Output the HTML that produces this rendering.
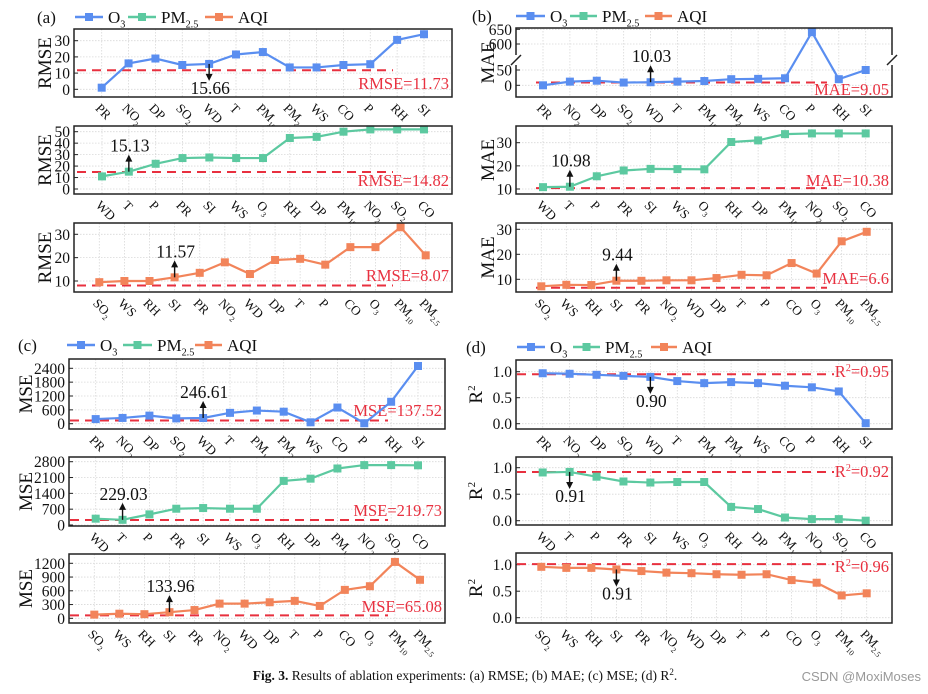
<!DOCTYPE html>
<html><head><meta charset="utf-8"><style>
body{margin:0;background:#fff;}
svg{display:block;font-family:"Liberation Serif",serif;}
</style></head><body>
<svg id="s" width="928" height="694" viewBox="0 0 928 694" xmlns="http://www.w3.org/2000/svg"></svg>
<script>
const catsA1=["PR","NO2","DP","SO2","WD","T","PM10","PM2.5","WS","CO","P","RH","SI"];
const catsA2=["WD","T","P","PR","SI","WS","O3","RH","DP","PM10","NO2","SO2","CO"];
const catsA3=["SO2","WS","RH","SI","PR","NO2","WD","DP","T","P","CO","O3","PM10","PM2.5"];
const rmseO3=[1,16,19,15,15.66,21.5,23,13.5,13.5,15,15.5,30.5,34];
const rmsePM=[11,15.13,22,27,27.5,27,27,44.5,45.5,50,52,52,52];
const rmseAQI=[9.5,10,10,11.57,13.5,18,13,19,19.5,17,24.5,24.5,33,21];
const maeO3=[0,12,15,9,10.03,12,14,20,21,23,640,20,50];
const maePM=[10.8,10.98,15.5,18,18.7,18.6,18.5,30.3,31,33.7,34,34,34];
const maeAQI=[7.2,7.8,7.7,9.44,9.4,9.6,9.6,10.5,11.8,11.6,16.5,12.3,25.2,29];
const mseO3=[200,250,350,230,246.61,470,570,520,60,700,20,950,2500];
const msePM=[280,229.03,470,720,750,720,720,1950,2050,2500,2650,2650,2640];
const mseAQI=[80,100,90,133.96,180,320,320,350,380,270,620,700,1230,840];
const r2O3=[0.97,0.96,0.94,0.92,0.90,0.82,0.78,0.80,0.78,0.73,0.70,0.62,0.01];
const r2PM=[0.91,0.92,0.83,0.74,0.72,0.73,0.73,0.26,0.22,0.06,0.03,0.03,0.0];
const r2AQI=[0.96,0.94,0.94,0.91,0.88,0.85,0.84,0.82,0.81,0.82,0.71,0.66,0.42,0.46];
const ticksRMSE1=[0,10,20,30], ticksRMSE2=[0,10,20,30,40,50], ticksRMSE3=[10,20,30];
const ticksMAE1=[0,50,600,650], ticksMAE2=[10,20,30], ticksMAE3=[10,20,30];
const ticksMSE1=[0,600,1200,1800,2400], ticksMSE2=[0,700,1400,2100,2800], ticksMSE3=[0,300,600,900,1200];
const ticksR2=[0.0,0.5,1.0];
const refs=[11.73,14.82,8.07,9.05,10.38,6.6,137.52,219.73,65.08,0.95,0.92,0.96];

const S=document.getElementById('s');
const NS="http://www.w3.org/2000/svg";
function el(t,a,p){const e=document.createElementNS(NS,t);for(const k in a)e.setAttribute(k,a[k]);(p||S).appendChild(e);return e;}
const BLUE="#5a8ef0",GREEN="#5cc9a0",ORANGE="#f2845a",RED="#e8303f";
function lab(g,s,x,y,size,anchor){
  const t=el('text',{x:x,y:y,'font-size':size,'text-anchor':anchor||'start',fill:'#111'},g);
  const m=s.match(/^([A-Z]+)([0-9.]+)$/);
  if(m && m[1]!=="R"){t.appendChild(document.createTextNode(m[1]));const ts=el('tspan',{'font-size':size*0.6,dy:size*0.25},t);ts.textContent=m[2];}
  else t.textContent=s;
  return t;
}
function linScale(v0,p0,v1,p1){return v=>p0+(v-v0)*(p1-p0)/(v1-v0);}
function panel(c){
  const g=el('g',{});
  
  
  const n=c.cats.length, xs=i=>c.px0+i*(c.px1-c.px0)/(n-1);
  el('rect',{x:c.x0,y:c.y0,width:c.x1-c.x0,height:c.y1-c.y0,fill:'#fff'},g);
  for(let i=0;i<n;i++) el('line',{x1:xs(i),x2:xs(i),y1:c.y0,y2:c.y1,stroke:'#d8d8d8','stroke-width':0.8,'stroke-dasharray':'1.5,1.5'},g);
  c.ticks.forEach(t=>{const y=c.ys(t);el('line',{x1:c.x0,x2:c.x1,y1:y,y2:y,stroke:'#d8d8d8','stroke-width':0.8,'stroke-dasharray':'1.5,1.5'},g);
    el('line',{x1:c.x0,x2:c.x0+4,y1:y,y2:y,stroke:'#222'},g);
    const tl=el('text',{x:c.x0-4,y:y+5.5,'font-size':15.5,'text-anchor':'end',fill:'#111'},g);
    
    
    tl.textContent=c.fmt?c.fmt(t):t;});
  const ry=c.ys(c.refPos!==undefined?c.refPos:c.ref);
  const rl=el('line',{x1:c.d0,x2:c.d1,y1:ry,y2:ry,stroke:RED,'stroke-width':2,'stroke-dasharray':'9,6'},g);
  
  
  const rt=el('text',{x:c.x1-3,y:c.ly,'font-size':16.5,'text-anchor':'end',fill:RED},g);
  
  
  rt.textContent=c.refText+c.ref;
  if(c.sup){rt.textContent='';rt.appendChild(document.createTextNode('R'));const sp=el('tspan',{'font-size':10,dy:-6},rt);sp.textContent='2';const r2=el('tspan',{dy:6},rt);r2.textContent='='+c.ref.toFixed(2);}
  const pts=c.vals.map((v,i)=>xs(i)+','+c.ys(v)).join(' ');
  const pl=el('polyline',{points:pts,fill:'none',stroke:c.color,'stroke-width':2.2},g);
  
  
  c.vals.forEach((v,i)=>{const r=el('rect',{x:xs(i)-4,y:c.ys(v)-4,width:8,height:8,fill:c.color},g);
    
    });
  el('rect',{x:c.x0,y:c.y0,width:c.x1-c.x0,height:c.y1-c.y0,fill:'none',stroke:'#222','stroke-width':1.5},g);
  if(c.brk){[c.x0,c.x1].forEach(x=>{el('rect',{x:x-3,y:c.brk-5,width:6,height:10,fill:'#fff'},g);el('line',{x1:x-5,y1:c.brk+5,x2:x+5,y2:c.brk-5,stroke:'#222','stroke-width':1.5},g);});}
  c.cats.forEach((s,i)=>{const x=xs(i)-7,y=c.y1+12;const t=lab(g,s,x,y,13);t.setAttribute('transform',`rotate(45 ${x} ${y})`);
    
    });
  const yl=el('text',{x:c.ylx,y:(c.y0+c.y1)/2,'font-size':19,'text-anchor':'middle',fill:'#111',transform:`rotate(-90 ${c.ylx} ${(c.y0+c.y1)/2})`},g);
  
  
  if(c.ylab==='R2'){yl.appendChild(document.createTextNode('R'));const sp=el('tspan',{'font-size':11,dy:-7},yl);sp.textContent='2';}else yl.textContent=c.ylab;
  const ax=xs(c.ai),ay=c.ys(c.vals[c.ai]);
  const d=c.dir;
  const tip=ay+d*17;
  el('line',{x1:ax,y1:ay,x2:ax,y2:tip-d*5,stroke:'#111','stroke-width':1.4},g);
  el('path',{d:`M${ax-3.5},${tip-d*7} L${ax},${tip} L${ax+3.5},${tip-d*7} Z`,fill:'#111'},g);
  const at=el('text',{x:ax+1,y:d>0?ay+30:ay-20,'font-size':17.5,'text-anchor':'middle',fill:'#111'},g);
  
  
  at.textContent=c.annText;
}
function legend(lbl,lx,ly,pos){
  const g=el('g',{});
  
  
  const t=el('text',{x:lx,y:ly+6,'font-size':17,fill:'#111'},g);t.textContent=lbl;
  const cols=[BLUE,GREEN,ORANGE],names=["O3","PM2.5","AQI"];
  pos.forEach((p,i)=>{el('line',{x1:p[0],x2:p[1],y1:ly,y2:ly,stroke:cols[i],'stroke-width':2.5},g);
    el('rect',{x:(p[0]+p[1])/2-4,y:ly-4,width:8,height:8,fill:cols[i]},g);
    const e=lab(g,names[i],p[1]+5,ly+6,17);
    
    });
}
legend("(a)",37,17,[[75,103],[128,156],[205,233]]);
legend("(b)",472,16,[[516,545],[570,597],[645,672]]);
legend("(c)",18,345,[[67,95],[123,152],[195,222]]);
legend("(d)",466,347,[[517,545],[573,600],[651,677]]);

const A={x0:74,x1:452,ylx:51}, B={x0:516,x1:892,ylx:494}, C={x0:69,x1:445,ylx:32}, D={x0:516,x1:892,ylx:482};
function mk(base,o){return Object.assign({},base,o);}
panel(mk(A,{name:'rmse-o3-panel',y0:29,y1:97,px0:101.7,px1:424,cats:catsA1,vals:rmseO3,color:BLUE,ticks:ticksRMSE1,ys:linScale(0,89.3,30,40.7),ref:refs[0],refText:'RMSE=',ly:89,d0:77,d1:393,ai:4,dir:1,annText:'15.66',ylab:'RMSE'}));
panel(mk(A,{name:'rmse-pm25-panel',y0:126,y1:194,px0:102,px1:424,cats:catsA2,vals:rmsePM,color:GREEN,ticks:ticksRMSE2,ys:linScale(0,189,50,131.7),ref:refs[1],refText:'RMSE=',ly:186,d0:77,d1:393,ai:1,dir:-1,annText:'15.13',ylab:'RMSE'}));
panel(mk(A,{name:'rmse-aqi-panel',y0:223,y1:292,px0:99.3,px1:425.7,cats:catsA3,vals:rmseAQI,color:ORANGE,ticks:ticksRMSE3,ys:linScale(10,281,30,234.3),ref:refs[2],refText:'RMSE=',ly:281,d0:77,d1:393,ai:3,dir:-1,annText:'11.57',ylab:'RMSE'}));
const maeBrk=v=>v<=300?85.3-(v)*(15.3/50):44-(v-600)*(14.7/50);
panel(mk(B,{name:'mae-o3-panel',y0:28,y1:97,px0:543,px1:865.7,cats:catsA1,vals:maeO3,color:BLUE,ticks:ticksMAE1,ys:maeBrk,brk:60,ref:refs[3],refText:'MAE=',ly:95,d0:536,d1:827,ai:4,dir:-1,annText:'10.03',ylab:'MAE'}));
panel(mk(B,{name:'mae-pm25-panel',y0:126,y1:194,px0:543,px1:865.7,cats:catsA2,vals:maePM,color:GREEN,ticks:ticksMAE2,ys:linScale(10,189,30,142.7),ref:refs[4],refText:'MAE=',ly:186,d0:536,d1:827,ai:1,dir:-1,annText:'10.98',ylab:'MAE'}));
panel(mk(B,{name:'mae-aqi-panel',y0:223,y1:292,px0:541.3,px1:866.7,cats:catsA3,vals:maeAQI,color:ORANGE,ticks:ticksMAE3,ys:linScale(10,279.3,30,229.3),ref:refs[5],refText:'MAE=',ly:284,d0:536,d1:827,ai:3,dir:-1,annText:'9.44',ylab:'MAE'}));
panel(mk(C,{name:'mse-o3-panel',y0:359,y1:429,px0:95.7,px1:418,cats:catsA1,vals:mseO3,color:BLUE,ticks:ticksMSE1,ys:linScale(0,423.7,2400,368.3),ref:refs[6],refText:'MSE=',ly:416,d0:70,d1:388,ai:4,dir:-1,annText:'246.61',ylab:'MSE'}));
panel(mk(C,{name:'mse-pm25-panel',y0:457,y1:526,px0:95.7,px1:418,cats:catsA2,vals:msePM,color:GREEN,ticks:ticksMSE2,ys:linScale(0,525,2800,461.7),ref:refs[7],refText:'MSE=',ly:516,d0:70,d1:388,ai:1,dir:-1,annText:'229.03',ylab:'MSE'}));
panel(mk(C,{name:'mse-aqi-panel',y0:554,y1:623,px0:94.3,px1:420,cats:catsA3,vals:mseAQI,color:ORANGE,ticks:ticksMSE3,ys:linScale(0,618.3,1200,563.3),ref:refs[8],refText:'MSE=',ly:612,d0:70,d1:388,ai:3,dir:-1,annText:'133.96',ylab:'MSE'}));
const f1=v=>v.toFixed(1);
panel(mk(D,{name:'r2-o3-panel',y0:360,y1:429,px0:542.7,px1:865.7,cats:catsA1,vals:r2O3,color:BLUE,ticks:ticksR2,fmt:f1,ys:linScale(0,423.7,1,371.7),ref:refs[9],sup:1,refText:'',ly:377,d0:517,d1:834,ai:4,dir:1,annText:'0.90',ylab:'R2'}));
panel(mk(D,{name:'r2-pm25-panel',y0:457,y1:525,px0:542.7,px1:865.7,cats:catsA2,vals:r2PM,color:GREEN,ticks:ticksR2,fmt:f1,ys:linScale(0,520.7,1,467.7),ref:refs[10],sup:1,refText:'',ly:477,d0:517,d1:834,ai:1,dir:1,annText:'0.91',ylab:'R2'}));
panel(mk(D,{name:'r2-aqi-panel',y0:553,y1:623,px0:541.3,px1:866.7,cats:catsA3,vals:r2AQI,color:ORANGE,ticks:ticksR2,fmt:f1,ys:linScale(0,617.7,1,564.7),ref:refs[11],refPos:1.01,sup:1,refText:'',ly:572,d0:517,d1:834,ai:3,dir:1,annText:'0.91',ylab:'R2'}));

const cap=el('text',{x:465,y:680,'font-size':13.5,'text-anchor':'middle',fill:'#111'});


const b=el('tspan',{'font-weight':'bold'},cap);b.textContent='Fig. 3.';
const r=el('tspan',{},cap);r.textContent='  Results of ablation experiments: (a) RMSE; (b) MAE; (c) MSE; (d) R';
const sp=el('tspan',{'font-size':9,dy:-5},cap);sp.textContent='2';
const dt=el('tspan',{dy:5},cap);dt.textContent='.';
const wm=el('text',{x:921,y:681,'font-size':13,'text-anchor':'end',fill:'#999','font-family':'Liberation Sans, sans-serif'});


wm.textContent='CSDN @MoxiMoses';
</script>
</body></html>
